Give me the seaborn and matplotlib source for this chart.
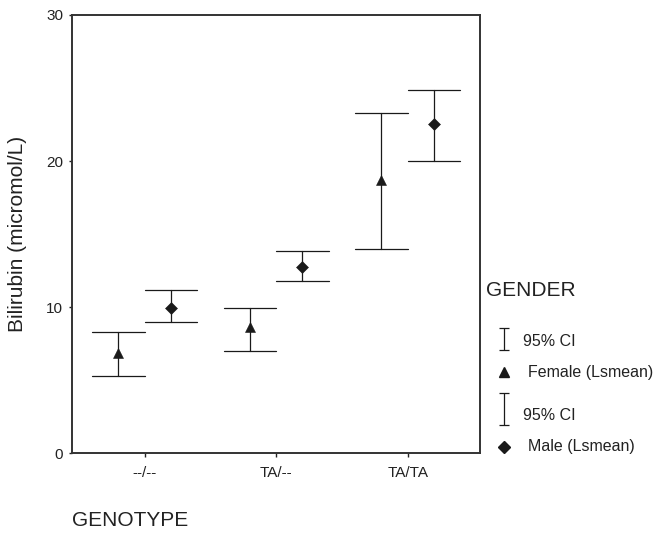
import numpy as np
import pandas as pd
import matplotlib
matplotlib.use('Agg')
import matplotlib.pyplot as plt
import seaborn as sns

# values (Lsmean and 95% CI bounds)
genotypes = ['--/--', 'TA/--', 'TA/TA']
genders = ['Female', 'Male']
female_mean = [6.85, 8.6, 18.7]
female_low = [5.25, 7.0, 13.95]
female_high = [8.3, 9.95, 23.3]
male_mean = [9.95, 12.75, 22.5]
male_low = [8.95, 11.8, 20.0]
male_high = [11.15, 13.85, 24.85]
y_ticks = [0, 10, 20, 30]
legend_title = 'GENDER'
legend_labels = ['95% CI', 'Female (Lsmean)', '95% CI', 'Male (Lsmean)']

INK = '#1a1a1a'

sns.set_theme(style='ticks')
plt.rcParams['font.family'] = ['Liberation Sans', 'DejaVu Sans']

# long table: low / mean / high per group, median gives the mean, min-max gives the CI
rows = []
for g, means, lows, highs in [('Female', female_mean, female_low, female_high),
                              ('Male', male_mean, male_low, male_high)]:
    for geno, m, lo, hi in zip(genotypes, means, lows, highs):
        for v in (lo, m, hi):
            rows.append({'genotype': geno, 'gender': g, 'bilirubin': v})
df = pd.DataFrame(rows)

fig = plt.figure(figsize=(6.54, 5.33), dpi=100)
ax = fig.add_axes([0.1106, 0.150, 0.6234, 0.8219])

sns.pointplot(data=df, x='genotype', y='bilirubin', hue='gender',
              order=genotypes, hue_order=genders,
              estimator='median', errorbar=lambda v: (v.min(), v.max()),
              dodge=0.4, markers=['^', 'D'], linestyles='none',
              palette=[INK, INK], capsize=0.4, markersize=7.5,
              markeredgewidth=0.4,
              err_kws={'linewidth': 0.9}, legend=False, ax=ax)

# diamonds a bit smaller than triangles, as in the original
for ln in ax.lines:
    if ln.get_marker() == 'D':
        ln.set_markersize(6.5)

ax.set_xlim(-0.55, 2.55)
ax.set_ylim(0, 30)
ax.set_yticks(y_ticks)
for sp in ax.spines.values():
    sp.set_visible(True)
    sp.set_color('#333333')
    sp.set_linewidth(1.4)
ax.tick_params(axis='y', length=2.5, width=1, pad=4, labelsize=11, colors='#222222')
ax.tick_params(axis='x', length=3, width=1, pad=6, labelsize=11, colors='#222222')

ax.set_ylabel('Bilirubin (micromol/L)', fontsize=15, color='#222222')
ax.yaxis.set_label_coords(-0.134, 0.5)
ax.yaxis.label.set_va('center')
ax.set_xlabel('GENOTYPE', fontsize=15, color='#222222')
ax.xaxis.set_label_coords(0.0, -0.154)
ax.xaxis.label.set_ha('left')
ax.xaxis.label.set_va('center')

# legend drawn by hand in pixel coordinates
lax = fig.add_axes([0, 0, 1, 1])
lax.set_xlim(0, 654)
lax.set_ylim(533, 0)
lax.axis('off')
lax.patch.set_visible(False)

lax.text(486, 291, legend_title, fontsize=15, ha='left', va='center', color='#222222')
lax.errorbar([504], [339], yerr=[11], fmt='none', ecolor=INK, elinewidth=0.9,
             capsize=3.6, capthick=0.9)
lax.text(523, 342, legend_labels[0], fontsize=11.5, ha='left', va='center', color='#222222')
lax.plot([504], [372], marker='^', markersize=7.5, color=INK, linestyle='none')
lax.text(528, 372, legend_labels[1], fontsize=11.5, ha='left', va='center', color='#222222')
lax.errorbar([504], [409], yerr=[16], fmt='none', ecolor=INK, elinewidth=0.9,
             capsize=3.6, capthick=0.9)
lax.text(523, 415, legend_labels[2], fontsize=11.5, ha='left', va='center', color='#222222')
lax.plot([504], [447], marker='D', markersize=6.5, color=INK, linestyle='none')
lax.text(528, 447, legend_labels[3], fontsize=11.5, ha='left', va='center', color='#222222')

fig.savefig('out.png', dpi=100)
